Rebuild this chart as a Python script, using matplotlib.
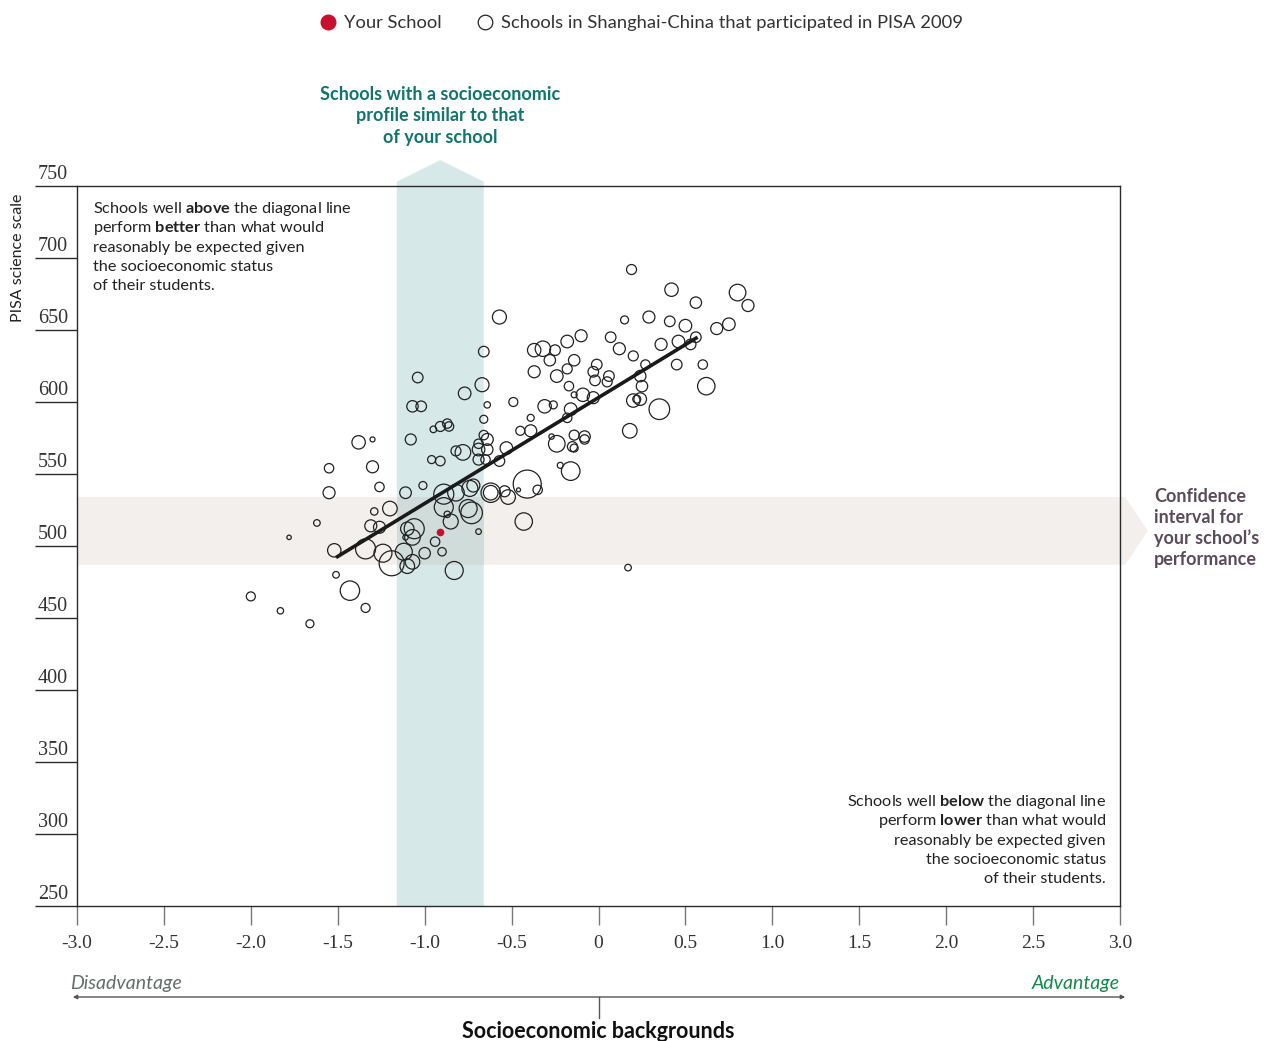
import matplotlib
matplotlib.use('Agg')
import matplotlib.pyplot as plt
from matplotlib.lines import Line2D
from matplotlib.patches import Polygon, Rectangle, FancyArrowPatch
import matplotlib.transforms as mtransforms

plt.rcParams['font.family'] = ['Lato', 'DejaVu Sans']
plt.rcParams['mathtext.fontset'] = 'custom'
plt.rcParams['mathtext.rm'] = 'Lato'
plt.rcParams['mathtext.bf'] = 'Lato:bold'
plt.rcParams['mathtext.it'] = 'Lato:italic'

# ---------------- data ----------------
escs = [0.19, 0.42, 0.80, 0.86, 0.56, -0.57, 0.15, 0.29, 0.41, 0.50,
        0.75, 0.68, -0.10, -0.18, 0.07, -0.37, -0.32, -0.25, -0.28, -0.14,
        0.12, 0.20, 0.36, 0.46, 0.53, 0.56, 0.45, 0.60, 0.62, -0.37,
        -0.24, -0.18, -0.01, -0.03, -0.02, 0.06, 0.05, 0.27, 0.24, 0.25,
        -0.17, -0.09, -0.14, -0.03, 0.20, 0.22, 0.24, 0.35, -0.49, -0.31,
        -0.26, -0.16, -0.39, -0.18, 0.18, -0.45, -0.39, -0.24, -0.27, -0.14,
        -0.08, -0.08, -0.15, -0.14, -0.53, -0.57, -0.22, -0.16, -0.41, -0.35,
        -0.46, -0.62, -0.62, -0.54, -0.52, -0.43, 0.17,
        -0.66, -1.04, -0.67, -0.77, -0.64, -1.07, -1.02, -0.66, -0.95, -0.91,
        -0.87, -0.86, -1.08, -0.66, -0.64, -0.69, -0.82, -0.78, -0.69, -0.64,
        -0.69, -0.65, -0.96, -0.91, -1.01, -1.11, -0.89, -0.82, -0.74, -0.72,
        -0.89, -0.85, -0.87, -0.73, -0.75, -0.69, -0.94, -0.90, -0.83,
        -1.06, -1.10, -1.07, -1.11, -1.12, -1.07, -1.10, -1.00, -1.19, -1.24,
        -1.34, -1.52, -1.20, -1.29, -1.31, -1.26, -1.26, -1.55, -1.62, -1.78,
        -1.55, -1.30, -1.38, -1.30, -1.51, -1.43, -1.34, -2.00, -1.83, -1.66]

science = [692, 678, 676, 667, 669, 659, 657, 659, 656, 653,
           654, 651, 646, 642, 645, 636, 637, 636, 629, 629,
           637, 632, 640, 642, 640, 645, 626, 626, 611, 621,
           618, 623, 626, 621, 615, 618, 614, 626, 618, 611,
           611, 605, 605, 603, 601, 602, 602, 595, 600, 597,
           598, 595, 589, 589, 580, 580, 580, 571, 576, 577,
           576, 574, 569, 568, 568, 559, 556, 552, 543, 539,
           539, 537, 537, 538, 534, 517, 485,
           635, 617, 612, 606, 598, 597, 597, 588, 581, 583,
           585, 583, 574, 577, 574, 571, 566, 565, 567, 567,
           560, 560, 560, 559, 542, 537, 536, 537, 540, 542,
           527, 517, 522, 523, 526, 510, 503, 496, 483,
           512, 512, 506, 506, 496, 489, 486, 495, 488, 495,
           498, 497, 526, 524, 514, 513, 541, 537, 516, 506,
           554, 555, 572, 574, 480, 469, 457, 465, 455, 446]

# relative school weight (drawn as circle radius)
school_weight = [5.0, 6.7, 8.3, 6.0, 5.7, 7.0, 4.0, 6.0, 5.3, 6.3,
                 6.3, 6.0, 6.0, 6.3, 5.3, 6.7, 7.7, 5.3, 5.7, 5.7,
                 6.0, 5.0, 6.0, 6.3, 5.3, 5.3, 5.3, 4.7, 8.7, 6.0,
                 6.3, 5.0, 5.3, 5.3, 5.3, 5.3, 5.0, 4.7, 5.7, 5.7,
                 4.7, 6.7, 3.0, 6.0, 6.7, 4.0, 6.3, 10.3, 4.5, 6.7,
                 4.0, 6.3, 3.5, 4.7, 7.3, 4.5, 6.0, 8.3, 2.7, 5.0,
                 5.7, 4.7, 5.0, 4.0, 6.3, 5.3, 3.0, 9.3, 14.0, 4.7,
                 2.0, 9.7, 7.3, 5.5, 7.3, 8.7, 3.3,
                 5.3, 5.3, 7.0, 6.3, 3.2, 5.7, 5.3, 4.0, 3.3, 5.0,
                 4.7, 4.7, 5.5, 4.7, 6.0, 4.7, 5.0, 7.8, 6.3, 5.7,
                 5.5, 4.7, 4.0, 4.8, 4.0, 5.8, 10.0, 8.3, 8.0, 6.5,
                 9.5, 7.5, 3.2, 10.8, 9.0, 2.8, 4.7, 4.2, 9.0,
                 10.0, 6.7, 7.8, 2.7, 8.5, 7.3, 7.3, 5.7, 12.5, 9.0,
                 10.0, 6.7, 7.3, 3.7, 6.0, 6.0, 4.7, 6.0, 3.3, 2.2,
                 4.7, 6.0, 6.7, 2.5, 3.3, 9.7, 4.5, 4.5, 3.2, 4.0]

your_escs = -0.91
your_score = 510
ci_low, ci_high = 487, 534            # confidence interval of your school
similar_low, similar_high = -1.16, -0.66   # similar socioeconomic profile
trend_x = [-1.51, 0.57]
trend_y = [492, 645]

x_ticks = [-3.0, -2.5, -2.0, -1.5, -1.0, -0.5, 0.0, 0.5, 1.0, 1.5, 2.0, 2.5, 3.0]
x_tick_labels = ['-3.0', '-2.5', '-2.0', '-1.5', '-1.0', '-0.5', '0',
                 '0.5', '1.0', '1.5', '2.0', '2.5', '3.0']
y_ticks = [250, 300, 350, 400, 450, 500, 550, 600, 650, 700, 750]
y_tick_labels = [str(v) for v in y_ticks]

above_lines = ['Schools well $\\mathbf{above}$ the diagonal line',
               'perform $\\mathbf{better}$ than what would',
               'reasonably be expected given',
               'the socioeconomic status',
               'of their students.']
below_lines = ['Schools well $\\mathbf{below}$ the diagonal line',
               'perform $\\mathbf{lower}$ than what would',
               'reasonably be expected given',
               'the socioeconomic status',
               'of their students.']

# ---------------- figure ----------------
W, H, DPI = 1275, 1041, 100
fig = plt.figure(figsize=(W / DPI, H / DPI), dpi=DPI)
ax = fig.add_axes([77 / W, 1 - 906 / H, (1120 - 77) / W, (906 - 186) / H])
ax.set_xlim(-3, 3)
ax.set_ylim(250, 750)

TEAL = '#d6e8e8'
BEIGE = '#f2efec'
OVER = '#d0dcda'
dark = '#2b2b2b'

# similar-profile band (with arrow head above the frame)
mid = (similar_low + similar_high) / 2
ax.add_patch(Polygon([(similar_low, 250), (similar_low, 753), (mid, 768),
                      (similar_high, 753), (similar_high, 250)],
                     closed=True, facecolor=TEAL, edgecolor='none',
                     clip_on=False, zorder=0))
# confidence band (with arrow head to the right of the frame)
ci_mid = (ci_low + ci_high) / 2
ax.add_patch(Polygon([(-3, ci_low), (3.03, ci_low), (3.16, ci_mid),
                      (3.03, ci_high), (-3, ci_high)],
                     closed=True, facecolor=BEIGE, edgecolor='none',
                     clip_on=False, zorder=0))
ax.add_patch(Rectangle((similar_low, ci_low), similar_high - similar_low,
                       ci_high - ci_low, facecolor=OVER, edgecolor='none',
                       zorder=0.5))

sizes = [(2 * w * 72 / DPI) ** 2 for w in school_weight]
ax.scatter(escs, science, s=sizes, facecolors='none', edgecolors='#222222',
           linewidths=0.9, zorder=2)
ax.plot(trend_x, trend_y, color='#1a1a1a', lw=2.6, solid_capstyle='butt',
        zorder=3)
ax.plot([your_escs], [your_score], 'o', color='#c8102e', markersize=5.5,
        markeredgewidth=0, zorder=4)

# spines / ticks
for s in ax.spines.values():
    s.set_color(dark)
    s.set_linewidth(1.0)
ax.set_xticks(x_ticks)
ax.set_xticklabels(x_tick_labels, fontfamily='Liberation Serif', fontsize=14,
                   color='#333333')
ax.tick_params(axis='x', direction='out', length=14, width=1.0,
               color='#777777', pad=7)
ax.set_yticks(y_ticks)
ax.set_yticklabels([])
ax.tick_params(axis='y', direction='out', length=30, width=1.0, color=dark)
ytrans = mtransforms.blended_transform_factory(ax.transAxes, ax.transData)
for v, lab in zip(y_ticks, y_tick_labels):
    ax.annotate(lab, xy=(-0.0374, v), xycoords=ytrans, xytext=(0, 1.5),
                textcoords='offset points', ha='left', va='bottom',
                fontfamily='Liberation Serif', fontsize=14.5, color='#333333')

# annotations inside plot (one line each, fixed baselines)
for i, line in enumerate(above_lines):
    fig.text(93 / W, 1 - (213 + 19.3 * i) / H, line, ha='left',
             va='baseline', fontsize=11.7, color='#222222')
for i, line in enumerate(below_lines):
    fig.text(1106 / W, 1 - (806 + 19.3 * i) / H, line, ha='right',
             va='baseline', fontsize=11.7, color='#222222')

fig.text(440 / W, 1 - 116 / H,
         'Schools with a socioeconomic\nprofile similar to that\nof your school',
         ha='center', va='center', fontsize=13, fontweight='bold',
         color='#11756e', linespacing=1.3)
fig.text(1154 / W, 1 - 528 / H,
         'Confidence\ninterval for\nyour school\u2019s\nperformance',
         ha='left', va='center', fontsize=13, fontweight='bold',
         color='#5b4b5b', linespacing=1.25)

fig.text(18 / W, 1 - 258 / H, 'PISA science scale', rotation=90,
         ha='center', va='center', fontsize=11.5, color='#222222')

# bottom axis descriptors
fig.text(70 / W, 1 - 983 / H, 'Disadvantage', style='italic', ha='left',
         va='center', fontsize=14, color='#62706b')
fig.text(1120 / W, 1 - 983 / H, 'Advantage', style='italic', ha='right',
         va='center', fontsize=14, color='#15884a')
fig.add_artist(FancyArrowPatch(
    (70 / W, 1 - 997 / H), (1128 / W, 1 - 997 / H),
    transform=fig.transFigure, arrowstyle='<|-|>', mutation_scale=6,
    color='#555555', lw=1.0))
fig.add_artist(Line2D([598.5 / W, 598.5 / W], [1 - 997 / H, 1 - 1018 / H],
                      transform=fig.transFigure, color='#555555', lw=1.0))
fig.text(598.5 / W, 1 - 1031 / H, 'Socioeconomic backgrounds', ha='center',
         va='center', fontsize=15.5, fontweight='bold', color='#111111')

# legend
handles = [Line2D([], [], marker='o', linestyle='none', markersize=10.5,
                  markerfacecolor='#c8102e', markeredgecolor='#c8102e'),
           Line2D([], [], marker='o', linestyle='none', markersize=10.5,
                  markerfacecolor='none', markeredgecolor='#222222',
                  markeredgewidth=0.9)]
fig.legend(handles, ['Your School',
                     'Schools in Shanghai-China that participated in PISA 2009'],
           loc='center', bbox_to_anchor=(641 / W, 1 - 23 / H), ncol=2,
           frameon=False, fontsize=13.2, handletextpad=0.35,
           columnspacing=1.9, handlelength=1.0, labelcolor='#333333')

fig.savefig('out.png', dpi=DPI)
